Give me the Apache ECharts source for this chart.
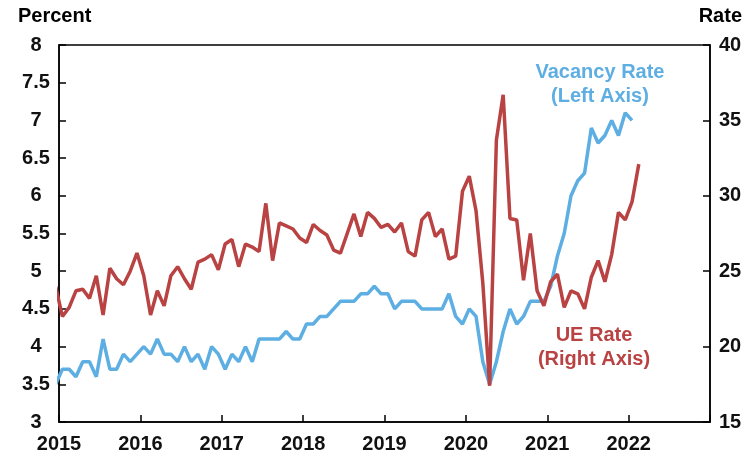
<!DOCTYPE html>
<html>
<head>
<meta charset="utf-8">
<script src="https://cdn.jsdelivr.net/npm/echarts@6/dist/echarts.min.js"></script>
<style>
  html, body { margin: 0; padding: 0; background: #fff; }
  #chart { width: 756px; height: 460px; }
</style>
</head>
<body>
<div id="chart"></div>
<script>
// monthly values, first entry is Dec 2014 (plotted mid-month)
const firstYear = 2014
const firstMonth = 12

// job vacancy rate, percent (left axis), Dec 2014 - Jan 2022
const vacancyRate = [
  3.5,
  3.7, 3.7, 3.6, 3.8, 3.8, 3.6, 4.1, 3.7, 3.7, 3.9, 3.8, 3.9,
  4.0, 3.9, 4.1, 3.9, 3.9, 3.8, 4.0, 3.8, 3.9, 3.7, 4.0, 3.9,
  3.7, 3.9, 3.8, 4.0, 3.8, 4.1, 4.1, 4.1, 4.1, 4.2, 4.1, 4.1,
  4.3, 4.3, 4.4, 4.4, 4.5, 4.6, 4.6, 4.6, 4.7, 4.7, 4.8, 4.7,
  4.7, 4.5, 4.6, 4.6, 4.6, 4.5, 4.5, 4.5, 4.5, 4.7, 4.4, 4.3,
  4.5, 4.4, 3.8, 3.5, 3.8, 4.2, 4.5, 4.3, 4.4, 4.6, 4.6, 4.6,
  4.8, 5.2, 5.5, 6.0, 6.2, 6.3, 6.9, 6.7, 6.8, 7.0, 6.8, 7.1,
  7.0
]

// UE rate (right axis), Dec 2014 - Feb 2022
const ueRate = [
  24.0,
  22.0, 22.6, 23.7, 23.8, 23.2, 24.7, 22.1, 25.2, 24.5, 24.1, 25.0, 26.2,
  24.7, 22.1, 23.7, 22.7, 24.7, 25.3, 24.5, 23.8, 25.6, 25.8, 26.1, 25.1,
  26.8, 27.1, 25.3, 26.8, 26.6, 26.3, 29.5, 25.7, 28.2, 28.0, 27.8, 27.2,
  26.9, 28.1, 27.7, 27.4, 26.4, 26.2, 27.5, 28.8, 27.3, 28.9, 28.5, 27.9,
  28.1, 27.6, 28.2, 26.3, 26.0, 28.4, 28.9, 27.3, 27.8, 25.8, 26.0, 30.3,
  31.3, 29.0, 24.2, 17.4, 33.7, 36.7, 28.5, 28.4, 24.4, 27.5, 23.7, 22.7,
  24.3, 24.8, 22.6, 23.7, 23.5, 22.5, 24.6, 25.7, 24.3, 26.1, 28.9, 28.4,
  29.6, 32.1
]

const blue = '#5daee2'
const red = '#b94242'
const font = "'Liberation Sans', Arial, Helvetica, sans-serif"

function toPoints(values) {
  return values.map((v, i) => [firstYear + (firstMonth - 1 + i + 0.5) / 12, v])
}

const labelStyle = {
  color: '#111',
  fontSize: 20,
  fontWeight: 'bold',
  fontFamily: font
}

const chart = echarts.init(document.getElementById('chart'))
chart.setOption({
  animation: false,
  grid: {
    left: 59,
    right: 46,
    top: 45,
    bottom: 38,
    show: true,
    borderColor: '#000',
    borderWidth: 1.5
  },
  xAxis: {
    type: 'value',
    min: 2015,
    max: 2023,
    interval: 1,
    splitLine: { show: false },
    axisLine: { lineStyle: { color: '#000', width: 1.5 } },
    axisTick: { inside: true, length: 7, lineStyle: { color: '#000', width: 1.5 } },
    axisLabel: Object.assign({}, labelStyle, {
      margin: 12,
      formatter: v => (v < 2023 ? String(v) : '')
    })
  },
  yAxis: [
    {
      type: 'value',
      position: 'left',
      min: 3,
      max: 8,
      interval: 0.5,
      splitLine: { show: false },
      axisLine: { show: true, lineStyle: { color: '#000', width: 1.5 } },
      axisTick: { show: true, inside: true, length: 7, lineStyle: { color: '#000', width: 1.5 } },
      axisLabel: Object.assign({}, labelStyle, { align: 'center', margin: 23 })
    },
    {
      type: 'value',
      position: 'right',
      min: 15,
      max: 40,
      interval: 5,
      splitLine: { show: false },
      axisLine: { show: true, lineStyle: { color: '#000', width: 1.5 } },
      axisTick: { show: true, inside: true, length: 7, lineStyle: { color: '#000', width: 1.5 } },
      axisLabel: Object.assign({}, labelStyle, { align: 'center', margin: 20 })
    }
  ],
  graphic: [
    { type: 'text', left: 18, top: 6, style: Object.assign({ text: 'Percent' }, labelStyle) },
    { type: 'text', right: 14, top: 6, style: Object.assign({ text: 'Rate' }, labelStyle) },
    {
      type: 'text', x: 600, y: 84,
      style: { text: 'Vacancy Rate\n(Left Axis)', fill: blue, font: 'bold 20px ' + font, align: 'center', verticalAlign: 'middle', lineHeight: 24 }
    },
    {
      type: 'text', x: 594, y: 347,
      style: { text: 'UE Rate\n(Right Axis)', fill: red, font: 'bold 20px ' + font, align: 'center', verticalAlign: 'middle', lineHeight: 24 }
    }
  ],
  series: [
    {
      name: 'Vacancy Rate',
      type: 'line',
      yAxisIndex: 0,
      data: toPoints(vacancyRate),
      showSymbol: false,
      clip: true,
      lineStyle: { color: blue, width: 3.5 },
      itemStyle: { color: blue }
    },
    {
      name: 'UE Rate',
      type: 'line',
      yAxisIndex: 1,
      data: toPoints(ueRate),
      showSymbol: false,
      clip: true,
      lineStyle: { color: red, width: 3.5 },
      itemStyle: { color: red }
    }
  ]
})
</script>
</body>
</html>
